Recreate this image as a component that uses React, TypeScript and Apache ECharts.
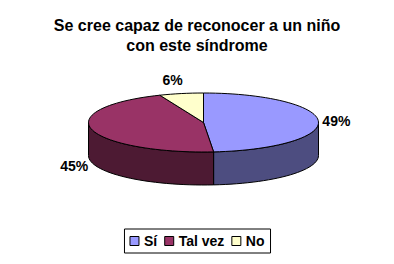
import React, { useEffect, useRef } from 'react';
import * as echarts from 'echarts';

const categories = ['Sí', 'Tal vez', 'No'];
const values = [48.6, 45.2, 6.2];
const labels = ['49%', '45%', '6%'];
const topColors = ['#9999FF', '#993366', '#FFFFCC'];
const sideColors = ['#4D4D80', '#4D1A33', '#808066'];
const titleText = 'Se cree capaz de reconocer a un niño\ncon este síndrome';

const CX = 203.5;
const CY = 122.5;
const RX = 115;
const RY = 29.5;
const DEPTH = 33;
const FONT = 'Liberation Sans, Arial, sans-serif';

function pt(t: number, dy = 0): number[] {
  return [CX + RX * Math.sin(t), CY - RY * Math.cos(t) + dy];
}

function arcPoints(a: number, b: number, dy = 0): number[][] {
  const n = Math.max(2, Math.ceil(((b - a) / (2 * Math.PI)) * 120));
  const pts: number[][] = [];
  for (let k = 0; k <= n; k++) pts.push(pt(a + ((b - a) * k) / n, dy));
  return pts;
}

function makeRender(i: number) {
  return (params: any, api: any) => {
    const total = values.reduce((s, v) => s + v, 0);
    let before = 0;
    for (let j = 0; j < i; j++) before += values[j];
    const v = api.value(0);
    const a = (before / total) * Math.PI * 2;
    const b = ((before + v) / total) * Math.PI * 2;
    const children: any[] = [];
    const sa = Math.max(a, Math.PI / 2);
    const sb = Math.min(b, (Math.PI * 3) / 2);
    if (sb > sa) {
      const topEdge = arcPoints(sa, sb, 0);
      const botEdge = arcPoints(sa, sb, DEPTH).reverse();
      children.push({
        type: 'polygon',
        shape: { points: topEdge.concat(botEdge) },
        style: { fill: sideColors[i], stroke: '#000', lineWidth: 1 },
      });
    }
    children.push({
      type: 'polygon',
      shape: { points: [[CX, CY]].concat(arcPoints(a, b, 0)) },
      style: { fill: topColors[i], stroke: '#000', lineWidth: 1 },
    });
    const m = (a + b) / 2;
    const c = Math.cos(m);
    const s = Math.sin(m);
    const lx = CX + (RX + 18) * s * (c > 0.9 ? 1.2 : 1);
    let ly = CY - (RY + 14) * c;
    if (c < 0) ly += DEPTH * Math.min(1, -c * 5);
    children.push({
      type: 'text',
      style: {
        text: labels[i],
        x: lx,
        y: ly,
        textAlign: 'center',
        textVerticalAlign: 'middle',
        font: 'bold 14px ' + FONT,
        fill: '#000',
      },
    });
    return { type: 'group', children };
  };
}

export default function App() {
  const ref = useRef<HTMLDivElement>(null);
  useEffect(() => {
    if (!ref.current) return;
    const chart = echarts.init(ref.current, undefined, { renderer: 'svg' });
    chart.setOption({
      animation: false,
      backgroundColor: '#ffffff',
      title: {
        text: titleText,
        left: 'center',
        top: 10,
        textStyle: { fontSize: 16, fontWeight: 'bold', color: '#000', lineHeight: 20, fontFamily: FONT },
      },
      legend: {
        data: categories,
        top: 229,
        left: 'center',
        icon: 'rect',
        itemWidth: 9,
        itemHeight: 9,
        itemGap: 7,
        padding: [5, 6, 5, 5],
        borderColor: '#000',
        borderWidth: 1,
        itemStyle: { borderColor: '#000', borderWidth: 1 },
        textStyle: { fontSize: 14, fontWeight: 'bold', color: '#000', fontFamily: FONT },
      },
      series: categories.map((name, i) => ({
        type: 'custom',
        name,
        coordinateSystem: 'none',
        itemStyle: { color: topColors[i] },
        renderItem: makeRender(i),
        data: [[values[i]]],
      })),
    });
    return () => chart.dispose();
  }, []);
  return <div ref={ref} style={{ position: 'fixed', left: 0, top: 0, width: 394, height: 264 }} />;
}
